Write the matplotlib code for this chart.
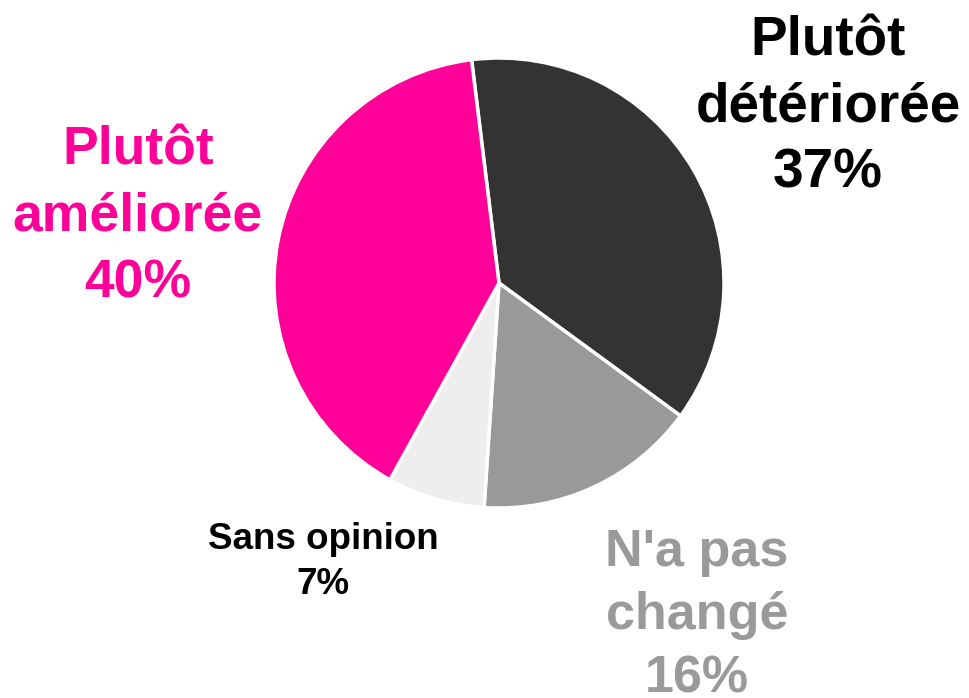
import matplotlib.pyplot as plt

# Donnees du camembert
categories = ["Plutôt détériorée", "N'a pas changé", "Sans opinion", "Plutôt améliorée"]
valeurs = [37, 16, 7, 40]
couleurs = ["#333333", "#999999", "#EEEEEE", "#FF0099"]

# Etiquettes (texte, couleur, position en pixels, taille, interligne)
etiquettes = ["Plutôt\ndétériorée\n37%", "N'a pas\nchangé\n16%", "Sans opinion\n7%", "Plutôt\naméliorée\n40%"]
couleurs_texte = ["#000000", "#9A9A9A", "#000000", "#FF0099"]
positions = [(828, 107), (697, 616), (323, 562), (138, 217)]
tailles = [39.5, 37.5, 26.5, 38.5]
interlignes = [1.35, 1.37, 1.4, 1.42]

W, H = 970, 698
fig = plt.figure(figsize=(W / 100, H / 100), dpi=100)
ax = fig.add_axes([0, 0, 1, 1])

ax.pie(valeurs, colors=couleurs, startangle=97, counterclock=False,
       center=(499, H - 283), radius=225,
       wedgeprops=dict(edgecolor="white", linewidth=2.5))

for txt, c, (x, y), s, ls in zip(etiquettes, couleurs_texte, positions, tailles, interlignes):
    ax.text(x, H - y, txt, color=c, fontsize=s, fontweight="bold",
            family="Liberation Sans", ha="center", va="center", linespacing=ls)

ax.set_xlim(0, W)
ax.set_ylim(0, H)
ax.set_aspect("equal")
ax.axis("off")
fig.savefig("out.png", dpi=100)
